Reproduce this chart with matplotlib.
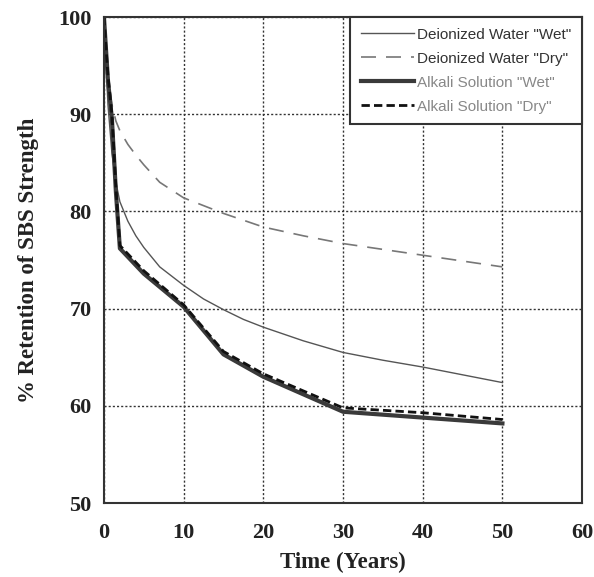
import matplotlib
matplotlib.use("Agg")
import matplotlib.pyplot as plt

years_dw = [0, 0.5, 1, 1.5, 2, 3, 4, 5, 7, 10, 12.5, 15, 17.5, 20, 25, 30, 35, 40, 45, 50]
dw_wet = [100, 91, 86, 83, 81, 79.0, 77.5, 76.3, 74.3, 72.4, 71.0, 69.9, 68.9, 68.1,
          66.7, 65.5, 64.7, 64.0, 63.2, 62.4]
dw_dry = [100, 94, 91, 89.3, 88.3, 86.9, 85.8, 84.8, 83.0, 81.4, 80.6, 79.8, 79.1, 78.4,
          77.5, 76.7, 76.1, 75.5, 74.9, 74.3]

years_ak = [0, 0.5, 1, 1.5, 2, 5, 10, 15, 20, 30, 40, 50]
ak_wet = [100, 93.5, 89.5, 82, 76.2, 73.6, 70.2, 65.3, 63.0, 59.4, 58.8, 58.2]
ak_dry = [100, 94, 90, 82.5, 76.5, 73.9, 70.4, 65.6, 63.3, 59.8, 59.3, 58.6]

labels = ['Deionized Water "Wet"', 'Deionized Water "Dry"',
          'Alkali Solution "Wet"', 'Alkali Solution "Dry"']
xticks = [0, 10, 20, 30, 40, 50, 60]
yticks = [50, 60, 70, 80, 90, 100]

fig = plt.figure(figsize=(5.94, 5.77), dpi=100)
ax = fig.add_axes([0.175, 0.128, 0.805, 0.8425])

ax.plot(years_dw, dw_wet, color="#555555", lw=1.0, label=labels[0])
ax.plot(years_dw, dw_dry, color="#777777", lw=1.2, dashes=(9, 6), label=labels[1])
ax.plot(years_ak, ak_wet, color="#3a3a3a", lw=3.0, label=labels[2])
ax.plot(years_ak, ak_dry, color="#111111", lw=2.0, dashes=(3, 1.5), label=labels[3])

ax.set_xlim(0, 60)
ax.set_ylim(50, 100)
ax.set_xticks(xticks)
ax.set_yticks(yticks)
ax.grid(True, linestyle=(0, (1.5, 1.5)), color="#333333", lw=1.0)
ax.tick_params(length=0, labelsize=16)
ax.tick_params(axis="x", pad=14)
ax.tick_params(axis="y", pad=9)
for lab in ax.get_xticklabels() + ax.get_yticklabels():
    lab.set_fontfamily("Liberation Serif")
    lab.set_fontweight("bold")
    lab.set_color("#222222")
for s in ax.spines.values():
    s.set_linewidth(1.5)
    s.set_color("#333333")

ax.set_xlabel("Time (Years)", fontsize=16.5, fontfamily="Liberation Serif",
              fontweight="bold", color="#222222", labelpad=7)
ax.set_ylabel("% Retention of SBS Strength", fontsize=16.5,
              fontfamily="Liberation Serif", fontweight="bold",
              color="#222222", labelpad=14)

leg = ax.legend(loc="upper right", bbox_to_anchor=(1, 1), borderaxespad=0,
                prop={"family": "Liberation Sans", "size": 11},
                handlelength=3.5, handletextpad=0.2, labelspacing=0.65,
                fancybox=False, framealpha=1, edgecolor="#333333",
                borderpad=0.7)
leg.get_frame().set_linewidth(1.5)
for i, t in enumerate(leg.get_texts()):
    t.set_color("#333333" if i < 2 else "#888888")

fig.savefig("out.png", dpi=100)
